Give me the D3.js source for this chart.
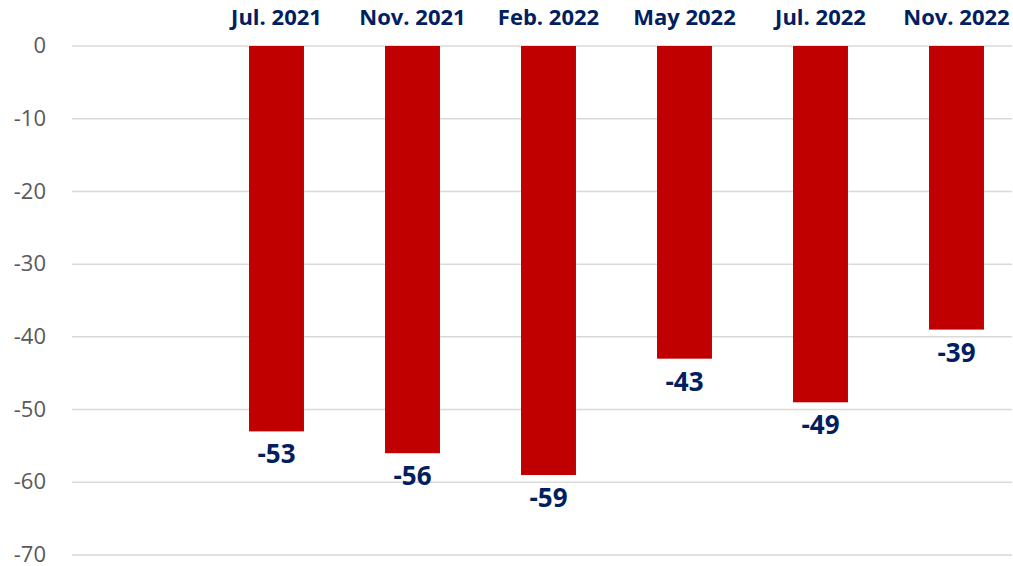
<!DOCTYPE html>
<html lang="en">
<head>
  <meta charset="UTF-8">
  <title>Bar chart</title>
  <script src="https://d3js.org/d3.v7.min.js"></script>
  <style>
    body { margin: 0; background: #ffffff; }
    svg { display: block; }
  </style>
</head>
<body>
  <svg id="chart" width="1013" height="566"></svg>
  <script>
    // Categories (first slot is left blank in the original chart)
    const categories = ["", "Jul. 2021", "Nov. 2021", "Feb. 2022", "May 2022", "Jul. 2022", "Nov. 2022"];
    const values = [null, -53, -56, -59, -43, -49, -39];
    const yTicks = [0, -10, -20, -30, -40, -50, -60, -70];

    const svg = d3.select("#chart");
    const font = "'Open Sans', 'Noto Sans', sans-serif";

    const x = d3.scaleBand().domain(categories).range([72.5, 1024.5]).paddingInner(0.596).paddingOuter(0.298);
    const y = d3.scaleLinear().domain([0, -70]).range([46, 555]);

    // Gridlines
    svg.append("g").selectAll("line").data(yTicks).join("line")
      .attr("x1", 72).attr("x2", 1012)
      .attr("y1", d => y(d)).attr("y2", d => y(d))
      .attr("stroke", "#d9d9d9").attr("stroke-width", 1.5);

    // Y axis labels (plain hyphen as minus sign)
    const yAxis = svg.append("g").attr("transform", "translate(46,0)")
      .call(d3.axisLeft(y).tickValues(yTicks).tickSize(0).tickPadding(0).tickFormat(d => String(d)));
    yAxis.select(".domain").remove();
    yAxis.selectAll("text")
      .attr("dy", "0.3em")
      .attr("fill", "#595959").attr("font-size", "22px").attr("font-family", font);

    const data = categories.map((c, i) => ({ c, v: values[i] })).filter(d => d.v !== null);

    // Bars
    svg.append("g").selectAll("rect").data(data).join("rect")
      .attr("x", d => x(d.c)).attr("width", x.bandwidth())
      .attr("y", y(0)).attr("height", d => y(d.v) - y(0))
      .attr("fill", "#c00000");

    // Category labels on top
    svg.append("g").selectAll("text").data(data).join("text")
      .attr("x", d => x(d.c) + x.bandwidth() / 2).attr("y", 25)
      .attr("text-anchor", "middle")
      .attr("font-family", font).attr("font-weight", "bold").attr("font-size", "22px")
      .attr("fill", "#002060")
      .text(d => d.c);

    // Value labels below bars
    svg.append("g").selectAll("text").data(data).join("text")
      .attr("x", d => x(d.c) + x.bandwidth() / 2).attr("y", d => y(d.v) + 32)
      .attr("text-anchor", "middle")
      .attr("font-family", font).attr("font-weight", "bold").attr("font-size", "26px")
      .attr("fill", "#002060")
      .text(d => String(d.v));
  </script>
</body>
</html>
